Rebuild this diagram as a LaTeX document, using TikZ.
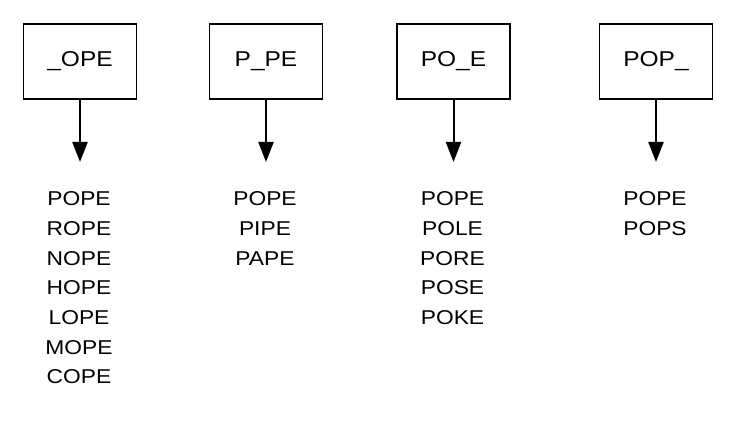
\documentclass[tikz,border=0pt]{standalone}
\usepackage{fontspec}
\setmainfont{Liberation Sans}
\newfontfamily\widesans[FakeStretch=1.14]{Liberation Sans}
\usetikzlibrary{arrows.meta}
\begin{document}
\begin{tikzpicture}[x=1pt,y=1pt,
  patbox/.style={draw,line width=1.5pt,minimum width=113pt,minimum height=75pt,inner sep=0pt,font=\widesans\fontsize{21.5}{21.5}\selectfont},
  flow/.style={line width=2pt,-{Triangle[width=15pt,length=20pt]}},
  word/.style={anchor=base,inner sep=0pt,font=\widesans\fontsize{20}{20}\selectfont}]
\useasboundingbox (0,0) rectangle (734,430);
\node[patbox] (b1) at (80,368.5) {\_OPE};
\node[patbox] (b2) at (266,368.5) {P\_PE};
\node[patbox] (b3) at (453.5,368.5) {PO\_E};
\node[patbox] (b4) at (656,368.5) {POP\_};
\coordinate (e1) at (80,268);
\coordinate (e2) at (266,268);
\coordinate (e3) at (453.5,268);
\coordinate (e4) at (656,268);
\foreach \i in {1,2,3,4} \draw[flow] (b\i.south) -- (e\i);
\foreach \w [count=\k] in {POPE,ROPE,NOPE,HOPE,LOPE,MOPE,COPE}
  \node[word] (a\k) at (79,{224-29.65*(\k-1)}) {\w};
\foreach \w [count=\k] in {POPE,PIPE,PAPE}
  \node[word] (p\k) at (265,{224-29.65*(\k-1)}) {\w};
\foreach \w [count=\k] in {POPE,POLE,PORE,POSE,POKE}
  \node[word] (q\k) at (452.5,{224-29.65*(\k-1)}) {\w};
\foreach \w [count=\k] in {POPE,POPS}
  \node[word] (r\k) at (655,{224-29.65*(\k-1)}) {\w};
\end{tikzpicture}
\end{document}
